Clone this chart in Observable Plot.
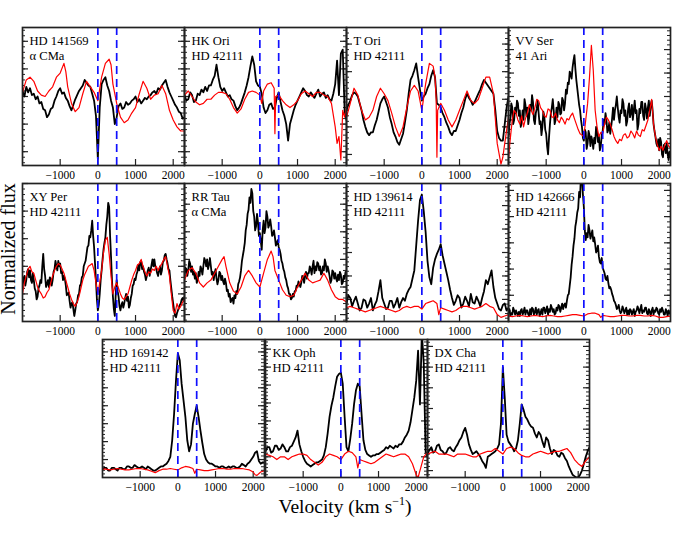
<!DOCTYPE html>
<html><head><meta charset="utf-8">
<script src="https://cdn.jsdelivr.net/npm/d3@7"></script>
<script src="https://cdn.jsdelivr.net/npm/@observablehq/plot@0.6"></script>
<style>
body{margin:0;background:#fff;}
#chart{position:relative;width:692px;height:539px;overflow:hidden;background:#fff;}
#chart svg{overflow:visible;}
#chart svg, #chart svg text, #chart svg g{font-family:"Liberation Serif","Times New Roman",serif !important;}
.panel{position:absolute;}
</style></head><body><div id="chart"></div>
<script>
// ---------- DATA ----------
const starNames = ["HD 141569","HK Ori","T Ori","VV Ser","XY Per","RR Tau","HD 139614","HD 142666","HD 169142","KK Oph","DX Cha"];
const comparisonNames = ["α CMa","HD 42111","HD 42111","41 Ari","HD 42111","α CMa","HD 42111","HD 42111","HD 42111","HD 42111","HD 42111"];
const xTickValues = [-1000, 0, 1000, 2000];
const markerVelocities = [0, 500];
const velocityRange = [-2000, 2300]; // star spectra are evenly sampled over this range

// star spectra (normalized flux, arbitrary units), evenly sampled from -2000 to 2300 km/s
const fluxHD141569 = [54,50,57,53,56,51,52,48,50,45, 46,41,40,35,37,41,42,47,50,54, 56,52,53,49,47,43,40,44,48,51, 54,56,58,62,60,58,57,52,47,36, 5,42,59,62,64,58,54,47,42,30, 35,43,45,41,42,46,44,45,47,48, 50,46,48,45,47,49,48,50,51,53, 54,52,56,55,58,60,62,57,53,50, 47,44,42,39,38,34,35];
const fluxHKOri = [51,47,48,53,51,46,47,52,51,55, 53,57,54,58,58,62,65,73,64,57, 54,56,53,50,51,48,47,43,40,42, 45,49,53,58,64,72,79,73,61,58, 57,52,42,38,40,44,45,41,42,49, 53,46,40,36,30,18,30,35,40,44, 47,50,53,56,54,51,50,53,51,49, 52,55,50,52,53,49,51,48,47,52, 59,76,51,81,84,40,33];
const fluxTOri = [40,44,47,51,53,52,50,45,40,33, 28,24,22,24,24,29,33,39,45,48, 50,46,42,35,30,24,21,17,15,19, 23,31,40,52,62,65,69,74,64,55, 47,50,52,56,59,65,69,64,45,44, 42,38,35,31,28,24,22,25,25,29, 33,38,42,48,52,49,47,44,46,49, 52,55,59,62,60,58,56,54,52,40, 25,20,18,18,30,42,50];
const fluxVVSer = [21,30,34,45,42,30,33,42,38,47,45,36,40,28,31,40,33,48,44,36,
  42,30,35,44,40,51,46,33,30,38,41,47,38,30,32,22,28,39,36,26,
  23,14,8,20,30,38,42,48,40,30,33,42,35,46,44,37,38,49,47,40,
  45,55,52,60,59,68,66,63,71,76,80,70,62,56,50,44,40,33,28,20,
  18,26,24,12,16,25,22,14,21,18,12,20,16,28,25,17,21,11,14,22,
  25,33,30,38,33,24,26,31,23,28,34,42,33,40,44,50,42,35,31,40,
  38,48,45,36,40,29,32,41,45,35,38,44,33,40,47,38,40,26,30,41,
  38,46,46,36,33,45,41,34,42,47,36,44,47,40,30,25,21,16,14,19,
  11,20,17,8,6,15,14,9,16,8,4,10,6];
const fluxXYPer = [25,31,33,26,30,36,38,32,37,30,28,35,30,24,22,16,18,24,26,30,
  28,40,49,38,33,25,27,30,25,32,31,26,30,36,38,44,40,37,44,40,
  42,35,36,30,33,31,26,19,20,21,15,10,13,14,9,4,8,13,14,19,
  20,26,27,32,33,40,42,44,49,54,55,62,61,66,73,62,54,42,30,16,
  8,12,20,30,37,45,52,57,61,70,76,86,83,62,47,30,18,9,4,20,
  30,22,18,11,8,12,14,10,13,17,20,15,18,10,12,17,20,26,27,31,
  30,34,36,41,37,43,44,38,40,36,34,30,33,37,39,33,37,41,45,40,
  45,40,38,35,33,37,40,34,37,43,44,48,49,45,42,38,37,30,24,18,
  13,8,4,3,6,8,10,12,13,16,17,15,18];
const fluxRRTau = [33,39,38,33,37,44,42,36,40,34,36,31,35,28,30,36,33,40,38,34,
  40,46,44,40,45,38,41,46,40,34,36,30,35,38,31,27,30,36,35,30,
  33,29,27,31,28,22,23,18,20,14,16,17,13,19,17,22,20,27,29,32,
  37,44,48,52,57,66,70,78,81,90,86,96,93,80,76,66,69,78,72,62,
  64,58,52,66,73,64,68,80,76,68,70,74,69,62,63,66,61,55,57,59,
  54,52,49,44,42,38,36,32,30,26,24,20,20,16,17,20,18,22,22,26,
  25,29,27,25,28,33,32,28,33,36,31,35,35,40,38,34,40,44,35,40,
  37,43,42,37,40,34,35,40,37,45,42,36,40,37,33,28,30,37,36,31,
  35,31,29,34,30,36,34,27,28,33,31,36,33];
const fluxHD139614 = [13,19,17,11,15,18,13,8,10,16, 15,10,13,17,8,12,15,22,30,17, 13,9,10,15,15,10,13,17,10,14, 17,15,20,23,25,31,37,55,73,88, 92,80,65,44,32,27,39,45,49,52, 56,48,42,36,30,23,17,12,15,19, 17,10,13,18,15,11,20,14,13,18, 15,11,17,22,30,27,32,37,25,17, 13,9,8,12,13,8,10];
const fluxHD142666 = [7,9,4,6,5,10,8,5,8,6,4,7,4,8,9,5,7,10,5,8,
  8,5,4,9,5,10,9,5,7,10,5,8,9,4,6,9,5,10,10,6,
  8,11,5,9,7,12,10,7,9,5,6,10,8,12,11,7,10,13,9,12,
  13,10,15,19,20,26,32,41,47,55,60,69,73,79,82,94,90,108,104,92,
  83,66,59,64,61,70,66,60,63,66,58,61,56,50,52,55,47,43,42,46,
  39,37,35,31,30,33,28,24,25,23,20,18,15,14,12,9,10,12,8,6,
  7,11,9,6,8,10,5,8,5,9,8,5,7,9,4,7,8,11,9,6,
  9,12,6,8,7,10,10,6,5,9,7,4,8,10,5,8,7,10,9,6,
  5,9,7,10,8,5,5,9,7,4,8,6,5];
const fluxHD169142 = [6,7,7,5,5,7,7,6,5,7, 7,6,6,8,8,7,7,9,8,7, 7,8,7,6,8,7,6,5,5,6, 7,8,8,9,10,12,15,27,46,70, 90,85,68,56,44,27,19,24,39,46, 52,44,34,25,17,13,11,10,10,9, 8,8,7,8,8,7,7,8,7,8, 8,7,7,8,10,9,8,10,11,13, 15,18,19,12,10,11,11];
const fluxKKOph = [19,22,22,18,19,23,23,20,21,24, 22,19,19,22,23,26,29,34,24,19, 15,12,10,9,8,9,10,11,11,12, 13,16,22,32,44,52,58,66,73,75, 76,68,44,22,19,28,39,53,63,68, 66,46,27,20,17,16,15,16,16,17, 17,18,19,20,22,21,23,22,21,23, 22,24,24,26,29,31,34,40,49,58, 70,92,53,105,83,19,15];
const fluxDXCha = [17,20,22,18,19,23,24,20,19,17, 18,21,22,20,19,22,24,27,29,33, 36,31,24,20,17,18,19,17,15,12, 10,7,15,16,17,18,19,21,24,39, 80,58,31,26,24,22,19,21,27,39, 53,49,44,42,39,37,36,32,29,33, 31,26,22,29,27,21,17,20,19,16, 15,18,17,14,12,8,5,2,1,0, 0,2,5,10,15,19,22];

// comparison-star spectra: [velocity (km/s), normalized flux]
const compHD141569 = [[-2000,53],[-1900,62],[-1800,64],[-1700,61],[-1600,54],[-1500,51],[-1400,50],[-1300,54],[-1200,57],[-1100,64],[-1000,67],[-900,74],[-850,68],[-800,57],[-700,45],[-600,39],[-500,42],[-400,52],[-300,61],[-200,57],[-100,53],[0,47],[100,64],[200,74],[300,77],[350,73],[400,59],[500,45],[600,35],[700,31],[800,33],[900,38],[1000,42],[1100,52],[1200,61],[1300,56],[1400,48],[1500,51],[1600,52],[1700,58],[1800,52],[1900,40],[2000,33],[2100,28],[2200,25],[2300,25]];
const compHKOri = [[-2000,51],[-1900,54],[-1800,50],[-1700,46],[-1600,44],[-1500,45],[-1400,48],[-1300,48],[-1200,51],[-1100,53],[-1000,53],[-900,52],[-800,48],[-700,42],[-600,38],[-500,41],[-400,48],[-300,53],[-200,54],[-100,53],[0,51],[50,45],[100,54],[200,59],[300,60],[380,56],[400,23],[420,50],[500,51],[600,47],[700,44],[800,42],[900,44],[1000,47],[1100,52],[1200,54],[1300,52],[1400,50],[1500,53],[1600,53],[1700,51],[1800,50],[1900,45],[2000,28],[2050,16],[2100,21],[2150,4],[2200,40],[2250,35],[2300,42]];
const compTOri = [[-2000,35],[-1900,45],[-1800,56],[-1700,51],[-1600,40],[-1500,33],[-1400,35],[-1300,40],[-1200,50],[-1100,56],[-1000,52],[-900,47],[-800,38],[-700,28],[-600,21],[-500,28],[-400,42],[-300,54],[-200,58],[-100,54],[0,40],[100,59],[200,74],[300,72],[350,64],[380,48],[400,6],[420,40],[500,45],[600,40],[700,33],[800,28],[900,33],[1000,40],[1100,47],[1200,54],[1300,47],[1400,45],[1500,48],[1600,56],[1700,64],[1800,64],[1900,52],[2000,16],[2100,1],[2150,6],[2200,16],[2300,35]];
const compVVSer = [[-2000,6],[-1950,20],[-1900,33],[-1850,40],[-1800,38],[-1750,33],[-1700,30],[-1650,36],[-1600,28],[-1550,34],[-1500,38],[-1450,44],[-1400,40],[-1350,37],[-1300,42],[-1250,48],[-1200,47],[-1150,42],[-1100,40],[-1050,36],[-1000,35],[-950,41],[-900,40],[-850,35],[-800,35],[-750,38],[-700,33],[-650,31],[-600,35],[-550,33],[-500,30],[-450,34],[-400,33],[-350,36],[-300,38],[-250,34],[-200,30],[-150,26],[-100,23],[-50,22],[0,21],[50,33],[100,45],[150,64],[200,87],[250,69],[300,40],[350,28],[400,21],[450,24],[500,23],[550,30],[600,35],[650,33],[700,30],[750,26],[800,21],[850,18],[900,16],[950,19],[1000,18],[1050,22],[1100,23],[1150,20],[1200,21],[1250,25],[1300,23],[1350,20],[1400,25],[1450,22],[1500,21],[1550,26],[1600,25],[1650,29],[1700,33],[1750,40],[1800,48],[1850,30],[1900,21],[1950,15],[2000,11],[2050,14],[2100,11],[2150,15],[2200,18],[2250,14],[2300,13]];
const compXYPer = [[-2000,20],[-1950,28],[-1900,33],[-1850,38],[-1800,40],[-1750,36],[-1700,35],[-1650,30],[-1600,25],[-1550,22],[-1500,20],[-1450,17],[-1400,18],[-1350,21],[-1300,23],[-1250,28],[-1200,33],[-1150,37],[-1100,40],[-1050,42],[-1000,41],[-950,38],[-900,35],[-850,30],[-800,25],[-750,20],[-700,16],[-650,13],[-600,11],[-550,14],[-500,18],[-450,24],[-400,30],[-350,34],[-300,37],[-250,40],[-200,41],[-150,42],[-100,37],[-50,28],[0,20],[50,28],[100,37],[150,50],[200,59],[250,61],[300,49],[350,33],[400,20],[450,25],[500,28],[550,24],[600,20],[650,17],[700,16],[750,18],[800,20],[850,25],[900,30],[950,34],[1000,37],[1050,41],[1100,42],[1150,45],[1200,40],[1250,36],[1300,33],[1350,36],[1400,35],[1450,38],[1500,37],[1550,40],[1600,37],[1650,40],[1700,42],[1750,45],[1800,47],[1850,40],[1900,33],[1950,20],[2000,8],[2050,6],[2100,13],[2150,9],[2200,11],[2250,14],[2300,16]];
const compRRTau = [[-2000,30],[-1900,37],[-1800,39],[-1700,35],[-1600,28],[-1500,25],[-1400,28],[-1300,30],[-1200,35],[-1100,40],[-1000,45],[-950,47],[-900,40],[-800,28],[-700,22],[-600,20],[-500,25],[-400,33],[-300,37],[-200,33],[-100,28],[0,25],[100,35],[200,45],[300,51],[350,47],[400,37],[500,30],[600,23],[700,19],[800,18],[900,19],[1000,25],[1100,30],[1200,35],[1300,30],[1400,28],[1500,29],[1600,30],[1700,35],[1800,30],[1900,23],[2000,18],[2100,16],[2200,16],[2300,14]];
const compHD139614 = [[-2000,10],[-1900,11],[-1800,10],[-1700,9],[-1600,8],[-1500,7],[-1400,8],[-1300,9],[-1200,10],[-1100,11],[-1000,10],[-900,9],[-800,8],[-700,7],[-600,8],[-500,10],[-400,11],[-300,10],[-200,11],[-100,11],[0,9],[100,13],[200,14],[300,15],[400,13],[450,5],[500,10],[600,9],[700,8],[800,7],[900,8],[1000,10],[1100,11],[1200,11],[1300,10],[1400,9],[1500,10],[1600,11],[1700,13],[1800,11],[1900,10],[2000,5],[2100,3],[2200,4],[2300,5]];
const compHD142666 = [[-2000,4],[-1900,3.5],[-1800,4],[-1700,4.5],[-1600,4],[-1500,3.5],[-1400,4],[-1300,4.5],[-1200,4],[-1100,3.5],[-1000,4],[-900,4.5],[-800,4],[-700,3.5],[-600,3.5],[-500,4],[-400,4.5],[-300,5],[-200,5],[-100,4.5],[0,4],[100,5.5],[200,6],[300,6],[400,5],[450,3],[500,4.5],[600,4],[700,3.5],[800,3.5],[900,4],[1000,4.5],[1100,4.5],[1200,4],[1300,4],[1400,4.5],[1500,4.5],[1600,4],[1700,4],[1800,4.5],[1900,4],[2000,3],[2100,3],[2200,3.5],[2300,4]];
const compHD169142 = [[-2000,6],[-1900,6],[-1800,5.5],[-1700,6],[-1600,6.5],[-1500,6],[-1400,5.5],[-1300,5.5],[-1200,6],[-1100,6.5],[-1000,6.5],[-900,6],[-800,5.5],[-700,4.5],[-600,3.5],[-500,5],[-400,6],[-300,6],[-200,6.5],[-100,6],[0,5.5],[100,7],[200,8],[300,7.5],[400,6.5],[450,3],[500,6],[600,5.5],[700,5],[800,5],[900,5.5],[1000,6],[1100,6.5],[1200,6.5],[1300,6],[1400,6],[1500,6.5],[1600,6.5],[1700,6.5],[1800,6],[1900,5.5],[2000,4],[2050,2],[2100,1.5],[2200,4],[2300,5]];
const compKKOph = [[-2000,17],[-1900,16],[-1800,15],[-1700,13],[-1600,15],[-1500,15],[-1400,13],[-1300,15],[-1200,16],[-1100,17],[-1000,17],[-900,16],[-800,13],[-700,11],[-600,9],[-500,11],[-400,15],[-300,17],[-200,16],[-100,15],[0,13],[100,17],[200,19],[300,18],[400,15],[450,7],[500,13],[600,12],[700,11],[800,10],[900,11],[1000,13],[1100,15],[1200,17],[1300,16],[1400,15],[1500,16],[1600,17],[1700,17],[1800,15],[1900,10],[2000,2],[2050,0],[2100,5],[2200,15],[2300,18]];
const compDXCha = [[-2000,17],[-1900,18],[-1800,19],[-1700,17],[-1600,17],[-1500,17],[-1400,16],[-1300,15],[-1200,17],[-1100,17],[-1000,17],[-900,16],[-800,15],[-700,15],[-600,17],[-500,18],[-400,19],[-300,19],[-200,21],[-100,19],[0,17],[100,21],[200,22],[300,21],[400,18],[500,16],[600,15],[700,15],[800,17],[900,18],[1000,19],[1100,18],[1200,17],[1300,18],[1400,19],[1500,19],[1600,20],[1700,21],[1800,18],[1900,13],[2000,10],[2100,8],[2200,12],[2300,15]];

const starFlux = [fluxHD141569, fluxHKOri, fluxTOri, fluxVVSer, fluxXYPer, fluxRRTau, fluxHD139614, fluxHD142666, fluxHD169142, fluxKKOph, fluxDXCha];
const compFlux = [compHD141569, compHKOri, compTOri, compVVSer, compXYPer, compRRTau, compHD139614, compHD142666, compHD169142, compKKOph, compDXCha];

// y tick layout per panel (first major tick, major step) in flux units
const yTickStart = [10, 10, 8, 16, 20, 5, 16, 19, 13, 15, 5];
const yTickStep  = [20, 20, 20, 17, 20, 20, 17, 19, 13, 13, 15];

// ---------- LAYOUT ----------
const panelLeft = [22,184,346,508, 22,184,346,508, 102,265,427];
const panelTop  = [27,27,27,27, 183,183,183,183, 339,339,339];
const W = 162, H = 138, M = 1, MB = 24;
const FONT = "Liberation Serif";
const fmt = d => d < 0 ? "\u2212" + (-d) : String(d);

const chart = document.getElementById("chart");

starNames.forEach((name, i) => {
  const flux = starFlux[i];
  const dv = (velocityRange[1] - velocityRange[0]) / (flux.length - 1);
  const black = flux.map((f, k) => ({v: velocityRange[0] + k * dv, f}));
  const red = compFlux[i].map(([v, f]) => ({v, f}));
  const step = yTickStep[i], start = yTickStart[i];
  const major = d3.range(start, 100.001, step);
  const minor = d3.range(start - step, 100.001, step / 5).filter(t => t > 0 && t < 100);
  const plot = Plot.plot({
    width: W + 2 * M, height: H + M + MB,
    marginLeft: M, marginRight: M, marginTop: M, marginBottom: MB,
    x: {domain: velocityRange, axis: null},
    y: {domain: [0, 100], axis: null},
    style: {fontFamily: FONT, background: "transparent", overflow: "visible"},
    marks: [
      Plot.tickY(minor, {insetRight: W - 3, stroke: "#222", strokeWidth: 1}),
      Plot.tickY(minor, {insetLeft: W - 3, stroke: "#222", strokeWidth: 1}),
      Plot.tickY(major, {insetRight: W - 6, stroke: "#222", strokeWidth: 1.2}),
      Plot.tickY(major, {insetLeft: W - 6, stroke: "#222", strokeWidth: 1.2}),
      Plot.tickX(xTickValues, {insetTop: H - 6, stroke: "#222", strokeWidth: 1.2}),
      Plot.line(black, {x: "v", y: "f", stroke: "#000", strokeWidth: 1.8, clip: true}),
      Plot.line(red, {x: "v", y: "f", stroke: "#ff0000", strokeWidth: 1.2, clip: true}),
      Plot.ruleX(markerVelocities, {stroke: "#1010ff", strokeWidth: 1.7, strokeDasharray: "8,5"}),
      Plot.frame({stroke: "#222", strokeWidth: 1.7}),
      Plot.axisX({ticks: xTickValues, tickSize: 0, tickPadding: 5, tickFormat: fmt, fontSize: 11.5, anchor: "bottom", label: null}),
      Plot.text([name + "\n" + comparisonNames[i]], {frameAnchor: "top-left", dx: 7, dy: 7, lineAnchor: "top", textAnchor: "start", lineHeight: 1.2, fontSize: 12.6, fill: "#000"})
    ]
  });
  plot.classList.add("panel");
  plot.style.left = (panelLeft[i] - M) + "px";
  plot.style.top = (panelTop[i] - M) + "px";
  chart.appendChild(plot);
});

// axis titles
const titles = d3.select(chart).append("svg")
  .attr("width", 692).attr("height", 539)
  .style("position", "absolute").style("left", 0).style("top", 0);
const xt = titles.append("text").attr("x", 345).attr("y", 513)
  .attr("text-anchor", "middle").attr("font-size", 19.5);
xt.append("tspan").text("Velocity (km s");
xt.append("tspan").attr("dy", -8).attr("font-size", 12).text("\u22121");
xt.append("tspan").attr("dy", 8).text(")");
titles.append("text").attr("transform", "translate(15,249) rotate(-90)")
  .attr("text-anchor", "middle").attr("font-size", 20).text("Normalized flux");
</script></body></html>
